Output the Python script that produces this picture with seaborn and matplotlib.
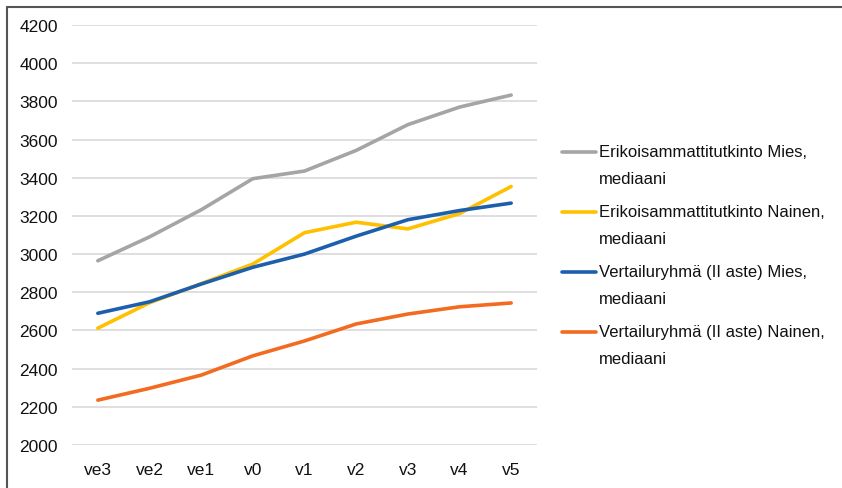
import matplotlib
matplotlib.use("Agg")
import matplotlib.pyplot as plt
import seaborn as sns
import pandas as pd
from matplotlib.lines import Line2D

periods = ["ve3", "ve2", "ve1", "v0", "v1", "v2", "v3", "v4", "v5"]
erik_mies = [2965, 3090, 3232, 3395, 3435, 3543, 3678, 3770, 3833]
erik_nainen = [2612, 2745, 2845, 2948, 3112, 3167, 3132, 3212, 3354]
vert_mies = [2690, 2750, 2843, 2931, 3000, 3094, 3180, 3228, 3267]
vert_nainen = [2235, 2297, 2366, 2467, 2545, 2634, 2686, 2724, 2744]

series_names = [
    "Erikoisammattitutkinto Mies,\nmediaani",
    "Erikoisammattitutkinto Nainen,\nmediaani",
    "Vertailuryhmä (II aste) Mies,\nmediaani",
    "Vertailuryhmä (II aste) Nainen,\nmediaani",
]
colors = ["#A5A5A5", "#FFC000", "#1D5FAD", "#F26B21"]
yticks = [2000, 2200, 2400, 2600, 2800, 3000, 3200, 3400, 3600, 3800, 4000, 4200]

rows = []
for name, vals in zip(series_names, [erik_mies, erik_nainen, vert_mies, vert_nainen]):
    for i, (p, v) in enumerate(zip(periods, vals)):
        rows.append({"idx": i, "period": p, "value": v, "series": name})
df = pd.DataFrame(rows)

sns.set_style("white")
plt.rcParams["font.family"] = ["Liberation Sans", "DejaVu Sans"]
plt.rcParams["text.color"] = "#111111"

W, H = 842, 489
fig = plt.figure(figsize=(W / 100, H / 100), dpi=100)
ax = fig.add_axes([72 / W, 1 - 446 / H, (537 - 72) / W, (446 - 26) / H])

sns.lineplot(data=df, x="idx", y="value", hue="series", hue_order=series_names,
             palette=colors, linewidth=2.6, ax=ax, legend=False)

ax.set_xlim(-0.5, 8.5)
ax.set_ylim(2000, 4200)
ax.set_yticks(yticks)
ax.set_yticklabels([str(t) for t in yticks], fontsize=12.5, color="#111111")
ax.set_xticks(range(len(periods)))
ax.set_xticklabels(periods, fontsize=12.5, color="#111111")
ax.yaxis.grid(True, color="#D9D9D9", linewidth=1.2)
ax.set_axisbelow(True)
ax.tick_params(axis="both", length=0)
ax.tick_params(axis="y", pad=10)
ax.tick_params(axis="x", pad=12)
for s in ax.spines.values():
    s.set_visible(False)
ax.set_xlabel("")
ax.set_ylabel("")

# manual legend (handle aligned with first text line, like the reference)
for i, (name, c) in enumerate(zip(series_names, colors)):
    y1 = 153 + 60 * i
    y2 = 180 + 60 * i
    fig.add_artist(Line2D([562 / W, 596 / W], [1 - y1 / H, 1 - y1 / H],
                          color=c, linewidth=2.6, transform=fig.transFigure))
    l1, l2 = name.split("\n")
    fig.text(599 / W, 1 - y1 / H, l1, fontsize=12, va="center", ha="left")
    fig.text(599 / W, 1 - y2 / H, l2, fontsize=12, va="center", ha="left")

fig.add_artist(Line2D([7 / W, 1], [1 - 7.5 / H, 1 - 7.5 / H],
                      color="#555555", linewidth=1.5, transform=fig.transFigure))
fig.add_artist(Line2D([7 / W, 7 / W], [0, 1 - 7.5 / H],
                      color="#555555", linewidth=1.5, transform=fig.transFigure))

fig.savefig("out.png", dpi=100)
